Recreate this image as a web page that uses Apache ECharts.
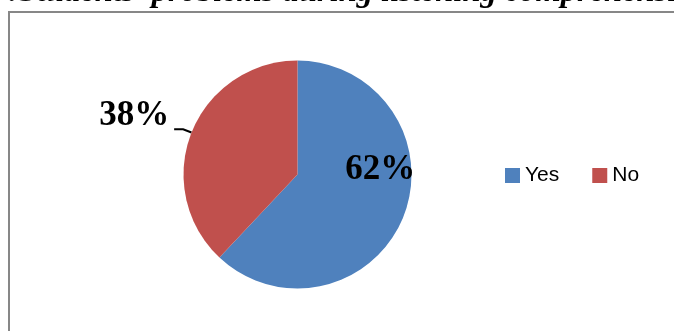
<!DOCTYPE html>
<html>
<head>
<meta charset="utf-8">
<script src="https://cdn.jsdelivr.net/npm/echarts@6/dist/echarts.min.js"></script>
<style>html,body{margin:0;padding:0;background:#fff}#c{width:674px;height:331px}</style>
</head>
<body>
<div id="c"></div>
<script>
const categories = ['Yes', 'No'];
const values = [62, 38];
const colors = ['#4F81BD', '#C0504D'];
const titleText = "Students' problems during listening comprehension";

const chart = echarts.init(document.getElementById('c'), null, {renderer: 'canvas'});
const data = categories.map((c, i) => ({
  name: c,
  value: values[i],
  itemStyle: {color: colors[i]},
  label: i === 0
    ? {position: 'inside', offset: [27, -27], formatter: '{d}%'}
    : {position: 'outside', formatter: '{d}%\n ', lineHeight: 27, distanceToLabelLine: 5}
}));

chart.setOption({
  animation: false,
  graphic: [
    {type: 'rect', shape: {x: 9, y: 12, width: 800, height: 500},
     style: {fill: 'none', stroke: '#878787', lineWidth: 2}, z: -1},
    {type: 'text', x: 8, y: 9, style: {text: ':', font: 'italic bold 32.5px "Liberation Serif"', fill: '#000', verticalAlign: 'bottom'}},
    {type: 'text', x: 19, y: 9, style: {text: titleText, font: 'italic bold 32.5px "Liberation Serif"', fill: '#000', verticalAlign: 'bottom'}}
  ],
  legend: {
    data: categories,
    left: 505, top: 165, padding: 0,
    icon: 'rect', itemWidth: 15, itemHeight: 15, itemGap: 33,
    textStyle: {fontFamily: 'Liberation Sans', fontSize: 21, color: '#000'}
  },
  series: [{
    type: 'pie',
    center: [297.5, 174.5],
    radius: 114,
    startAngle: 90,
    clockwise: true,
    data: data,
    label: {
      fontFamily: 'Liberation Serif', fontWeight: 'bold', fontSize: 35, color: '#000'
    },
    labelLine: {length: 9, length2: 9, lineStyle: {color: '#000', width: 2}},
    emphasis: {disabled: true}
  }]
});
</script>
</body>
</html>
